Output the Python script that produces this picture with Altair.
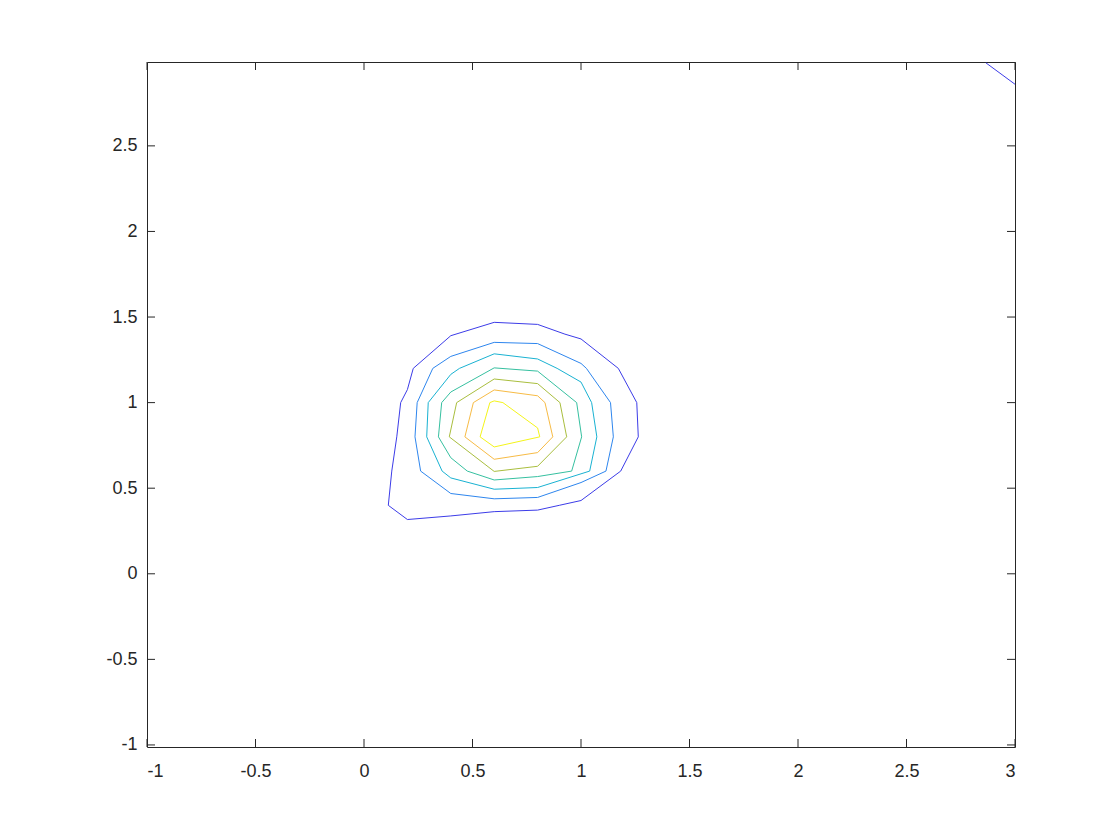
import altair as alt
import pandas as pd

# contour levels (outer -> inner), each a closed polyline
L1_x = [0.6, 0.8, 0.926, 1.0, 1.172, 1.257, 1.264, 1.183, 1.0, 0.9, 0.8, 0.6, 0.4, 0.2, 0.112, 0.128, 0.151, 0.169, 0.2, 0.227, 0.4, 0.6]
L1_y = [1.469, 1.457, 1.4, 1.372, 1.2, 1.0, 0.8, 0.6, 0.428, 0.4, 0.372, 0.363, 0.338, 0.317, 0.4, 0.6, 0.8, 1.0, 1.076, 1.2, 1.391, 1.469]

L2_x = [0.6, 0.8, 1.0, 1.025, 1.136, 1.149, 1.115, 1.0, 0.8, 0.6, 0.4, 0.261, 0.235, 0.245, 0.317, 0.4, 0.6]
L2_y = [1.352, 1.345, 1.229, 1.2, 1.0, 0.8, 0.6, 0.533, 0.446, 0.438, 0.469, 0.6, 0.8, 1.0, 1.2, 1.27, 1.352]

L3_x = [0.6, 0.8, 0.89, 1.0, 1.049, 1.073, 1.04, 1.0, 0.8, 0.6, 0.4, 0.36, 0.289, 0.296, 0.4, 0.44, 0.6]
L3_y = [1.285, 1.255, 1.2, 1.12, 1.0, 0.8, 0.6, 0.584, 0.504, 0.494, 0.56, 0.6, 0.8, 1.0, 1.165, 1.2, 1.285]

L4_x = [0.6, 0.8, 0.98, 1.003, 0.957, 0.8, 0.6, 0.476, 0.4, 0.343, 0.358, 0.4, 0.6]
L4_y = [1.203, 1.184, 1.0, 0.8, 0.6, 0.568, 0.548, 0.6, 0.678, 0.8, 1.0, 1.062, 1.203]

L5_x = [0.6, 0.8, 0.903, 0.934, 0.8, 0.6, 0.393, 0.427, 0.6]
L5_y = [1.138, 1.111, 1.0, 0.8, 0.628, 0.598, 0.8, 1.0, 1.138]

L6_x = [0.6, 0.8, 0.834, 0.87, 0.8, 0.6, 0.465, 0.504, 0.6]
L6_y = [1.074, 1.04, 1.0, 0.8, 0.708, 0.669, 0.8, 1.0, 1.074]

L7_x = [0.6, 0.64, 0.8, 0.81, 0.6, 0.535, 0.58, 0.6]
L7_y = [1.01, 1.0, 0.852, 0.8, 0.741, 0.8, 1.0, 1.01]

# lowest level also appears in the top-right corner
L1b_x = [2.866, 3.0]
L1b_y = [2.985, 2.86]

levels = ["L1", "L2", "L3", "L4", "L5", "L6", "L7"]
colors = ["#3c3ce8", "#2e86ee", "#19b2d2", "#36c0a0", "#a9be3e", "#f7bb45", "#f4f41a"]

x_ticks = [-1, -0.5, 0, 0.5, 1, 1.5, 2, 2.5, 3]
y_ticks = [-1, -0.5, 0, 0.5, 1, 1.5, 2, 2.5]

series = [
    ("L1", "g1", L1_x, L1_y), ("L1", "g1b", L1b_x, L1b_y),
    ("L2", "g2", L2_x, L2_y), ("L3", "g3", L3_x, L3_y),
    ("L4", "g4", L4_x, L4_y), ("L5", "g5", L5_x, L5_y),
    ("L6", "g6", L6_x, L6_y), ("L7", "g7", L7_x, L7_y),
]
rows = []
for lev, grp, xs, ys in series:
    for i, (xv, yv) in enumerate(zip(xs, ys)):
        rows.append({"x": xv, "y": yv, "level": lev, "group": grp, "order": i})
df = pd.DataFrame(rows)

W, H = 868, 685
TICK = 8
AX = "#262626"
FONT = "Liberation Sans"

xscale = alt.Scale(domain=[-1, 3], nice=False, zero=False)
yscale = alt.Scale(domain=[-1.012, 2.99], nice=False, zero=False)
xaxis = alt.Axis(values=x_ticks, title=None, grid=False, ticks=False, domain=False,
                 labelExpr="toString(datum.value)", labelPadding=15, labelFontSize=18,
                 labelFont=FONT, labelColor=AX, orient="bottom")
yaxis = alt.Axis(values=y_ticks, title=None, grid=False, ticks=False, domain=False,
                 labelExpr="toString(datum.value)", labelPadding=10, labelFontSize=18,
                 labelFont=FONT, labelColor=AX, orient="left")

lines = alt.Chart(df).mark_line(strokeWidth=1, clip=True).encode(
    x=alt.X("x:Q", scale=xscale, axis=xaxis),
    y=alt.Y("y:Q", scale=yscale, axis=yaxis),
    color=alt.Color("level:N", scale=alt.Scale(domain=levels, range=colors), legend=None),
    detail="group:N",
    order="order:Q",
)

xt = pd.DataFrame({"t": x_ticks})
yt = pd.DataFrame({"t": y_ticks})

bottom_ticks = alt.Chart(xt).mark_rule(color=AX, strokeWidth=1).encode(
    x=alt.X("t:Q", scale=xscale, axis=xaxis), y=alt.value(H), y2=alt.value(H - TICK))
top_ticks = alt.Chart(xt).mark_rule(color=AX, strokeWidth=1).encode(
    x=alt.X("t:Q", scale=xscale, axis=xaxis), y=alt.value(0), y2=alt.value(TICK))
left_ticks = alt.Chart(yt).mark_rule(color=AX, strokeWidth=1).encode(
    y=alt.Y("t:Q", scale=yscale, axis=yaxis), x=alt.value(0), x2=alt.value(TICK))
right_ticks = alt.Chart(yt).mark_rule(color=AX, strokeWidth=1).encode(
    y=alt.Y("t:Q", scale=yscale, axis=yaxis), x=alt.value(W), x2=alt.value(W - TICK))

chart = alt.layer(lines, bottom_ticks, top_ticks, left_ticks, right_ticks).properties(
    width=W, height=H,
    autosize=alt.AutoSizeParams(type="none"),
    padding={"left": 139, "top": 54, "right": 60, "bottom": 60},
    background="white",
).configure_view(stroke=AX, strokeWidth=1)

chart.save("out.html", embed_options={"renderer": "svg", "actions": False})
